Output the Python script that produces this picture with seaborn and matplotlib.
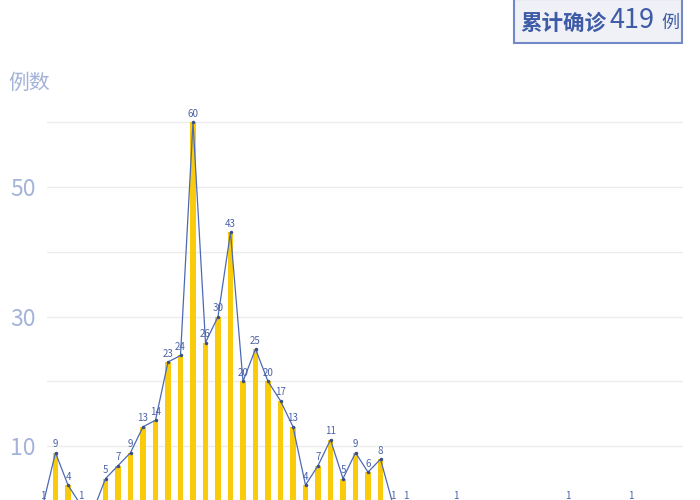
import numpy as np
import pandas as pd
import matplotlib
matplotlib.use('Agg')
import matplotlib.pyplot as plt
import seaborn as sns
from matplotlib.patches import Rectangle

# daily new cases (bottom of the original chart is cut off, zeros hidden)
cases = [1, 9, 4, 1, 0, 5, 7, 9, 13, 14, 23, 24, 60, 26, 30, 43, 20, 25, 20, 17,
         13, 4, 7, 11, 5, 9, 6, 8, 1, 1, 0, 0, 0, 1, 0, 0, 0, 0, 0, 0,
         0, 0, 1, 0, 0, 0, 0, 1, 0, 0, 0, 0]
days = list(range(len(cases)))
total = 419
y_ticks = [10, 20, 30, 40, 50, 60]
y_ticklabels = ['10', '', '30', '', '50', '']

df = pd.DataFrame({'day': days, 'cases': cases})

sns.set_style('white')
plt.rcParams['font.family'] = ['Noto Sans CJK SC', 'DejaVu Sans']

bar_color = '#FACB0A'
line_color = '#4C6AB3'
label_color = '#A4B3D9'

fig = plt.figure(figsize=(7, 5), dpi=100)
ax = fig.add_axes([47 / 700, 0, 636 / 700, 1])

sns.barplot(data=df, x='day', y='cases', color=bar_color, width=0.44,
            saturation=1, linewidth=0, edgecolor=bar_color, ax=ax, zorder=2)
sns.lineplot(data=df, x='day', y='cases', color=line_color, lw=0.9,
             marker='o', markersize=2.5, markeredgewidth=0,
             markerfacecolor='#3A4F8A', ax=ax, zorder=3)
for p in ax.patches:
    p.set_clip_on(False)
for ln in ax.lines:
    ln.set_clip_on(False)

# value labels (the zero labels fall below the visible area)
for d, v in zip(days, cases):
    if v == 0:
        continue
    ax.annotate(str(v), (d, v), xytext=(0, 2.5), textcoords='offset points',
                ha='center', va='bottom', fontsize=7, color='#4A62A8',
                annotation_clip=False, zorder=4)

ax.set_xlim(0.32, 51.2)
ax.set_ylim(1.70, 78.86)
ax.set_yticks(y_ticks)
ax.set_yticklabels(y_ticklabels)
ax.set_xticks([])
ax.set_xlabel('')
ax.set_ylabel('')
ax.grid(axis='y', color='#ECECEC', lw=1, zorder=0)
ax.tick_params(axis='y', length=0, pad=8, labelsize=16.5, labelcolor=label_color)
for s in ax.spines.values():
    s.set_visible(False)

fig.text(8 / 700, 1 - 83 / 500, '例数', fontsize=15, color=label_color,
         ha='left', va='center')

# total box top right
fig.patches.append(Rectangle((514 / 700, 1 - 43 / 500), 168 / 700, 44 / 500,
                             transform=fig.transFigure, facecolor='#EFF1F6',
                             edgecolor='#7189C6', lw=1.5))
fig.text(520 / 700, 1 - 23 / 500, '累计确诊', fontsize=15.5, fontweight='bold',
         color='#3D5BA6', ha='left', va='center')
fig.text(610 / 700, 1 - 21 / 500, str(total), fontsize=19.5, color='#3D5BA6',
         ha='left', va='center')
fig.text(661 / 700, 1 - 23 / 500, '例', fontsize=13, color='#3D5BA6',
         ha='left', va='center')

fig.savefig('out.png', dpi=100)
